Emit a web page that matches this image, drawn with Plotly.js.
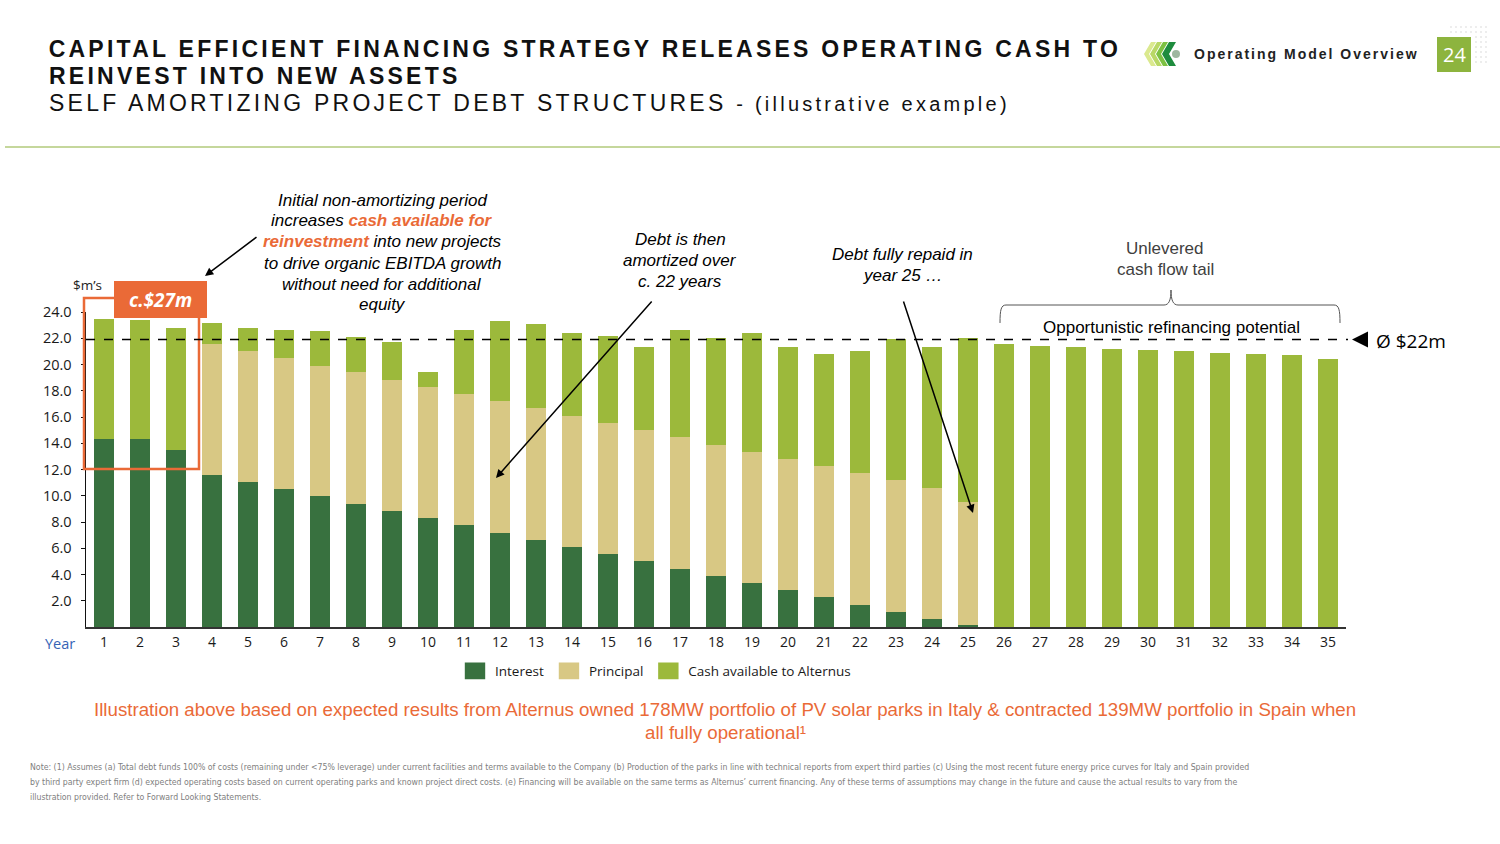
<!DOCTYPE html>
<html>
<head>
<meta charset="utf-8">
<script src="https://cdn.plot.ly/plotly-3.0.1.min.js"></script>
<style>
  html, body { margin: 0; padding: 0; background: #ffffff; }
  #chart { width: 1500px; height: 844px; }
  .annotation[data-index="0"] text, .annotation[data-index="1"] text, .annotation[data-index="2"] text { letter-spacing: 3.25px; }
  .annotation[data-index="3"] text { letter-spacing: 2px; }
</style>
</head>
<body>
<div id="chart"></div>
<script>
// ---------------- data ----------------
const years = ["1","2","3","4","5","6","7","8","9","10","11","12","13","14","15","16","17","18","19","20","21","22","23","24","25","26","27","28","29","30","31","32","33","34","35"];
const interest  = [14.3,14.3,13.5,11.6,11.05,10.5,9.95,9.4,8.85,8.3,7.75,7.2,6.65,6.1,5.55,5.0,4.45,3.9,3.35,2.8,2.25,1.7,1.15,0.6,0.15,0,0,0,0,0,0,0,0,0,0];
const principal = [0,0,0,10.0,10.0,10.0,9.95,10.0,9.95,10.0,10.0,10.0,10.0,10.0,10.0,10.0,10.0,10.0,10.0,10.0,10.0,10.05,10.05,10.0,9.4,0,0,0,0,0,0,0,0,0,0];
const cash      = [9.2,9.1,9.3,1.55,1.75,2.1,2.65,2.7,2.95,1.1,4.9,6.1,6.45,6.3,6.65,6.3,8.15,8.1,9.05,8.5,8.55,9.25,10.75,10.75,12.45,21.6,21.4,21.3,21.2,21.1,21.0,20.9,20.8,20.7,20.45];
const seriesNames = ["Interest","Principal","Cash available to Alternus"];
const yTickVals = [2,4,6,8,10,12,14,16,18,20,22,24];
const avgCash = 21.9;
const avgLabel = "Ø $22m";

// ---------------- layout helpers (pixel -> paper) ----------------
const W = 1500, H = 844;
const L = 86, R = 1346, T = 312, B = 627;
const px = x => (x - L) / (R - L);
const py = y => (B - y) / (B - T);
const pt = (x, y) => px(x).toFixed(5) + "," + py(y).toFixed(5);

const colInterest = "#38713f";
const colPrincipal = "#d8c884";
const colCash = "#9cb93b";
const orange = "#ea6a37";

const traces = [
  {type: "bar", name: seriesNames[0], x: years, y: interest, marker: {color: colInterest}},
  {type: "bar", name: seriesNames[1], x: years, y: principal, marker: {color: colPrincipal}},
  {type: "bar", name: seriesNames[2], x: years, y: cash, marker: {color: colCash}}
];

const ann = [];
function txt(x, y, text, o) {
  o = o || {};
  ann.push({
    xref: "paper", yref: "paper", x: px(x), y: py(y), text: text, showarrow: false,
    xanchor: o.xanchor || "center", yanchor: "middle", align: o.align || "center",
    font: Object.assign({family: "Liberation Sans, Arial, sans-serif", size: 17, color: "#000"}, o.font || {})
  });
}
// header (indices 0..3 get CSS letter spacing; centred so spacing stays symmetric)
txt(585, 49, "CAPITAL EFFICIENT FINANCING STRATEGY RELEASES OPERATING CASH TO", {font: {size: 23, weight: 700, color: "#111"}});
txt(255, 76, "REINVEST INTO NEW ASSETS", {font: {size: 23, weight: 700, color: "#111"}});
txt(529, 103, "SELF AMORTIZING PROJECT DEBT STRUCTURES <span style=\"font-size:20px\">- (illustrative example)</span>", {font: {size: 23, color: "#111"}});
txt(1306, 54, "Operating Model Overview", {font: {size: 14, weight: 700, color: "#222"}});
txt(1454, 54, "24", {font: {family: "Open Sans, sans-serif", size: 20, color: "#ffffff"}});

// left annotation
const O = s => "<span style=\"color:" + orange + "\"><b>" + s + "</b></span>";
const leftLines = ["Initial non-amortizing period", "increases " + O("cash available for"), O("reinvestment") + " into new projects",
  "to drive organic EBITDA growth", "without need for additional", "equity"];
const leftY = [201, 221, 242, 263, 284, 304];
leftLines.forEach((s, i) => txt(382, leftY[i], s, {font: {style: "italic"}}));
["Debt is then", "amortized over", "c. 22 years"].forEach((s, i) => txt(680, [240, 260, 281][i], s, {font: {style: "italic"}}));
["Debt fully repaid in", "year 25 …"].forEach((s, i) => txt(902, [254, 275][i], s, {font: {style: "italic"}}));
["Unlevered", "cash flow tail"].forEach((s, i) => txt(1165, [248, 269][i], s, {font: {color: "#404040"}}));
txt(1171, 327, "Opportunistic refinancing potential", {font: {size: 17}});
txt(87, 285, "$m’s", {font: {family: "Open Sans, sans-serif", size: 13.5, color: "#222"}});
txt(160, 300, "<b><i>c.$27m</i></b>", {font: {family: "Open Sans, sans-serif", size: 19, color: "#ffffff"}});
txt(1374, 341, avgLabel, {xanchor: "left", font: {family: "Open Sans, sans-serif", size: 19, color: "#000"}});
txt(60, 643, "Year", {font: {family: "Open Sans, sans-serif", size: 14.5, color: "#3563b5"}});

// footer
txt(725, 709, "Illustration above based on expected results from Alternus owned 178MW portfolio of PV solar parks in Italy &amp; contracted 139MW portfolio in Spain when", {font: {size: 18.7, color: orange}});
txt(725, 732, "all fully operational¹", {font: {size: 18.7, color: orange}});
const noteFont = {family: "Liberation Sans Narrow, DejaVu Sans Condensed, sans-serif", size: 8.7, color: "#808080"};
txt(28, 767, "Note: (1) Assumes (a) Total debt funds 100% of costs (remaining under &lt;75% leverage) under current facilities and terms available to the Company (b) Production of the parks in line with technical reports from expert third parties (c) Using the most recent future energy price curves for Italy and Spain provided", {xanchor: "left", font: noteFont});
txt(28, 782, "by third party expert firm (d) expected operating costs based on current operating parks and known project direct costs. (e) Financing will be available on the same terms as Alternus’ current financing. Any of these terms of assumptions may change in the future and cause the actual results to vary from the", {xanchor: "left", font: noteFont});
txt(28, 797, "illustration provided. Refer to Forward Looking Statements.", {xanchor: "left", font: noteFont});

// arrows
function arrow(x0, y0, x1, y1) {
  ann.push({xref: "paper", yref: "paper", x: px(x1), y: py(y1), ax: x0 - x1, ay: y0 - y1, text: "",
    showarrow: true, arrowhead: 2, arrowsize: 1.1, arrowwidth: 1.5, arrowcolor: "#000", standoff: 0, startstandoff: 0});
}
arrow(258, 236, 205, 276);
arrow(653, 300, 496, 478);
arrow(903, 300, 973, 513);

// shapes
const shapes = [];
shapes.push({type: "line", xref: "paper", yref: "paper", x0: px(5), x1: px(1500), y0: py(147), y1: py(147), line: {color: "#c5d79c", width: 2}});
shapes.push({type: "rect", xref: "paper", yref: "paper", x0: px(1437), x1: px(1471), y0: py(72), y1: py(37), fillcolor: "#8db43e", line: {width: 0}, layer: "below"});
for (let i = 0; i < 8; i++) for (let j = 0; j < 8; j++) {
  const cx = 1451 + i * 5, cy = 27 + j * 5;
  if (cx > 1435 && cx < 1473 && cy > 35 && cy < 74) continue;
  shapes.push({type: "circle", xref: "paper", yref: "paper", x0: px(cx - 0.8), x1: px(cx + 0.8), y0: py(cy + 0.8), y1: py(cy - 0.8), fillcolor: "#d6d6d6", line: {width: 0}});
}
const chev = (x, c, w) => shapes.push({type: "path", xref: "paper", yref: "paper",
  path: "M" + pt(x + 7, 42) + "L" + pt(x + 7 + w, 42) + "L" + pt(x + w, 54) + "L" + pt(x + 7 + w, 66) + "L" + pt(x + 7, 66) + "L" + pt(x, 54) + "Z",
  fillcolor: c, line: {width: 0}});
chev(1144, "#dbe98f", 5);
chev(1150, "#b9d866", 5);
chev(1156, "#7dc142", 5);
chev(1162, "#1e8c3e", 7);
shapes.push({type: "circle", xref: "paper", yref: "paper", x0: px(1172), x1: px(1180), y0: py(58), y1: py(50), fillcolor: "#9fb7a0", line: {width: 0}});
shapes.push({type: "rect", xref: "paper", yref: "paper", x0: px(84), x1: px(199), y0: py(469), y1: py(298), line: {color: orange, width: 2.5}, layer: "above"});
shapes.push({type: "rect", xref: "paper", yref: "paper", x0: px(114), x1: px(207), y0: py(318), y1: py(281), fillcolor: orange, line: {width: 0}, layer: "above"});
shapes.push({type: "line", xref: "paper", yref: "y", x0: 0, x1: px(1348), y0: avgCash, y1: avgCash, line: {color: "#000", width: 1.5, dash: "dash"}, layer: "above"});
const yAvgPx = B - avgCash / 24 * (B - T);
shapes.push({type: "path", xref: "paper", yref: "paper", path: "M" + pt(1352, yAvgPx) + "L" + pt(1368, yAvgPx - 8) + "L" + pt(1368, yAvgPx + 8) + "Z", fillcolor: "#000", line: {width: 0}});
shapes.push({type: "path", xref: "paper", yref: "paper",
  path: "M" + pt(1000, 323) + "C" + pt(1000, 310) + " " + pt(1001, 305) + " " + pt(1006, 305) +
        "L" + pt(1164, 305) + "C" + pt(1169, 305) + " " + pt(1171, 300) + " " + pt(1171, 290) +
        "C" + pt(1171, 300) + " " + pt(1173, 305) + " " + pt(1178, 305) +
        "L" + pt(1334, 305) + "C" + pt(1339, 305) + " " + pt(1340, 310) + " " + pt(1340, 323),
  line: {color: "#555", width: 1}});

const layout = {
  width: W, height: H,
  margin: {l: L, r: W - R, t: T, b: H - B, pad: 0},
  paper_bgcolor: "#ffffff", plot_bgcolor: "#ffffff",
  barmode: "stack", bargap: 0.44,
  font: {family: "Open Sans, sans-serif", size: 13.5, color: "#1a1a1a"},
  showlegend: true,
  legend: {orientation: "h", x: px(455), xanchor: "left", y: py(671), yanchor: "middle",
    font: {family: "Open Sans, sans-serif", size: 13.5, color: "#1a1a1a"}, traceorder: "normal", bgcolor: "rgba(0,0,0,0)"},
  xaxis: {type: "category", range: [-0.5, 34.5], showline: true, linecolor: "#333", linewidth: 1.5, ticks: "", showgrid: false,
    zeroline: false, tickfont: {size: 14, color: "#1a1a1a"}, ticklabelstandoff: 2, fixedrange: true},
  yaxis: {range: [0, 24], tickvals: yTickVals, ticktext: yTickVals.map(v => v.toFixed(1)), showline: true, linecolor: "#111", linewidth: 1.5,
    ticks: "outside", ticklen: 4, tickcolor: "#111", showgrid: false, zeroline: false, tickfont: {size: 14.5, color: "#1a1a1a"},
    ticklabelstandoff: 6, fixedrange: true},
  annotations: ann,
  shapes: shapes
};

Plotly.newPlot("chart", traces, layout, {displayModeBar: false, staticPlot: true}).then(gd => {
  gd.querySelectorAll(".legendpoints path").forEach(p => {
    const t = p.getAttribute("transform") || "";
    p.setAttribute("transform", t + " scale(1.7,1.4)");
  });
});
</script>
</body>
</html>
